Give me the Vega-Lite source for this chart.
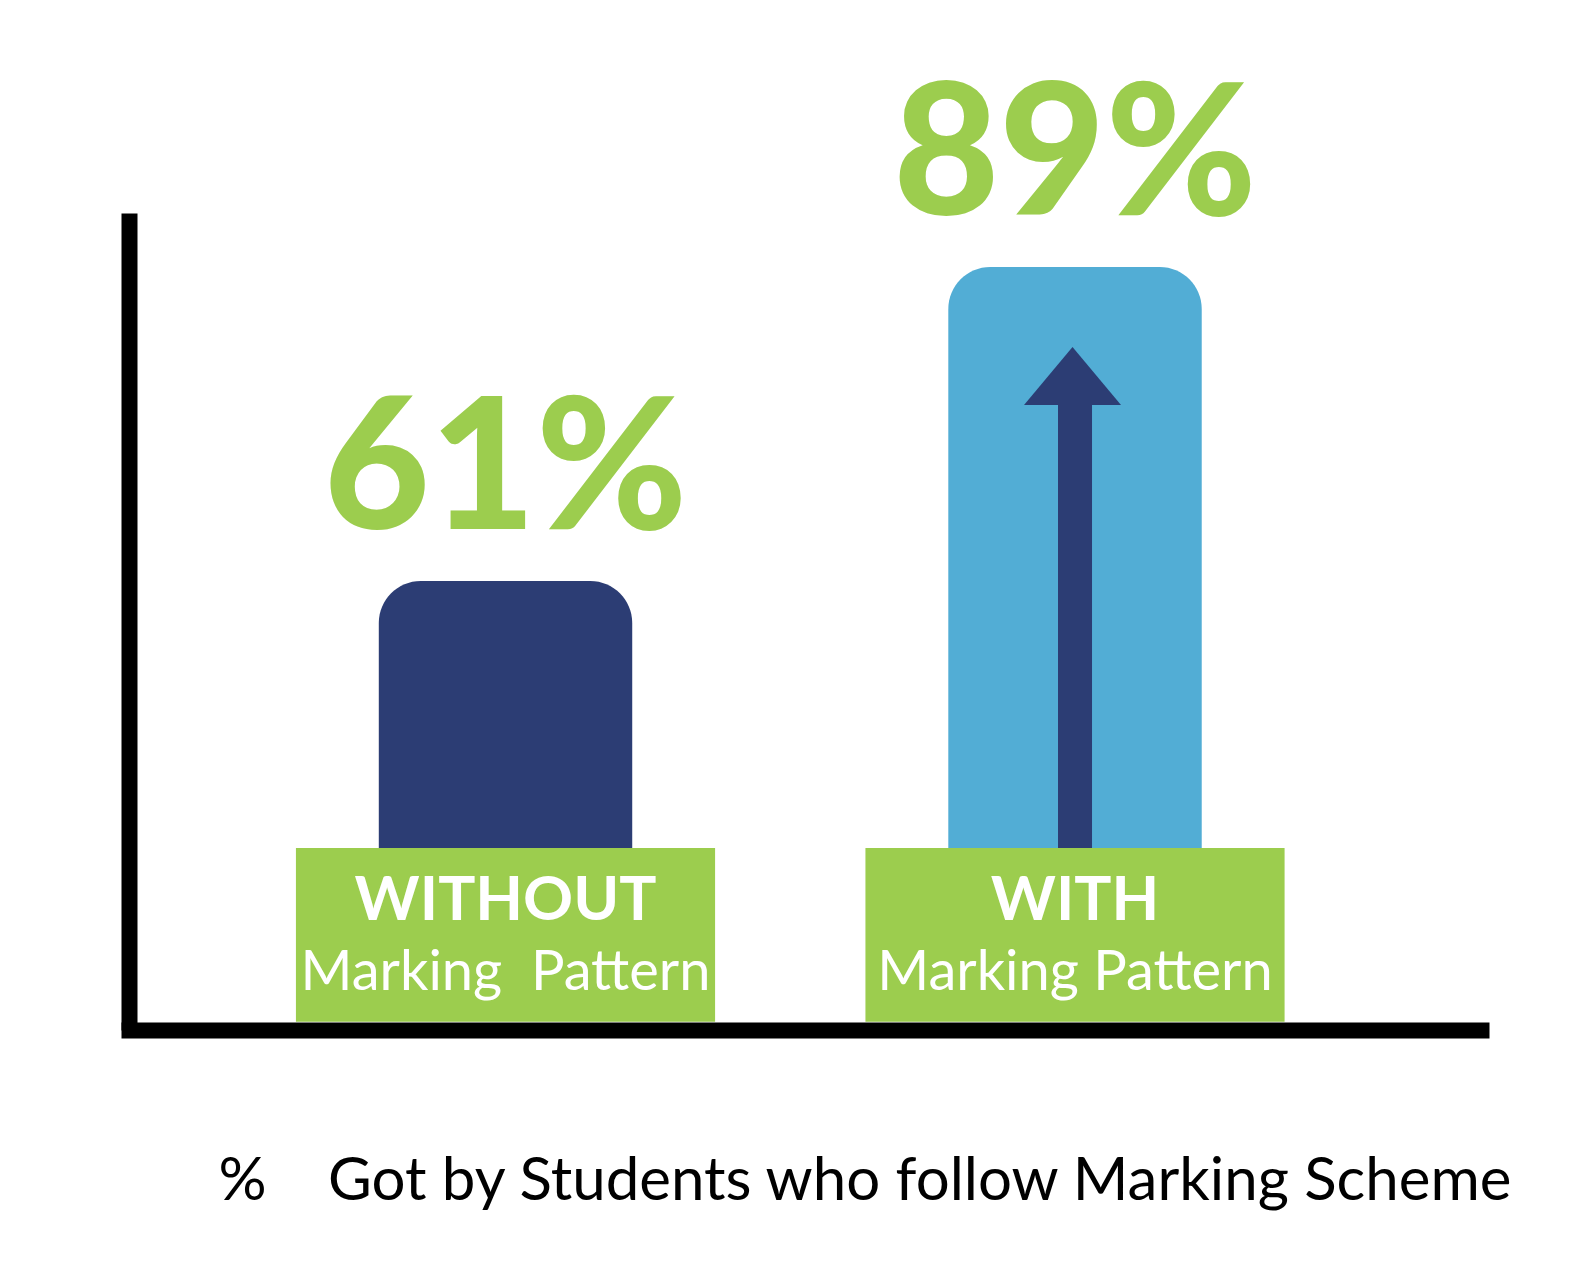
{
  "$schema": "https://vega.github.io/schema/vega-lite/v6.json",
  "autosize": {"type": "none"},
  "width": 1352,
  "height": 817,
  "padding": {"left": 129, "top": 213, "right": 112, "bottom": 248},
  "background": "white",
  "config": {"view": {"stroke": null}},
  "data": {"values": [
    {"group": "WITHOUT", "pct": 61, "label": "61%", "sub": "Marking\u00a0\u00a0Pattern"},
    {"group": "WITH", "pct": 89, "label": "89%", "sub": "Marking Pattern"}
  ]},
  "layer": [
    {
      "mark": {"type": "bar", "width": {"band": 0.445}, "cornerRadiusTopLeft": 42, "cornerRadiusTopRight": 42},
      "encoding": {
        "x": {"field": "group", "type": "nominal", "sort": ["WITHOUT", "WITH"],
              "scale": {"domain": ["WITHOUT", "WITH"], "paddingInner": 0, "paddingOuter": 0.187, "align": 0.4308},
              "axis": {"domain": true, "domainColor": "#000000", "domainWidth": 16, "domainCap": "square", "ticks": false, "labels": false,
                       "title": "%\u00a0\u00a0\u00a0\u00a0Got by Students who follow Marking Scheme",
                       "titleFont": "Lato", "titleFontSize": 60, "titleFontWeight": "normal", "titleColor": "#000000",
                       "titleAnchor": "start", "titleAlign": "left", "titleX": 89, "titleY": 169, "titleBaseline": "alphabetic"}},
        "y": {"field": "pct", "type": "quantitative",
              "scale": {"domain": [20.96, 93.81], "zero": false, "nice": false},
              "axis": {"domain": true, "domainColor": "#000000", "domainWidth": 16, "domainCap": "butt", "ticks": false, "labels": false, "grid": false, "title": null}},
        "y2": {"datum": 30},
        "color": {"field": "group", "type": "nominal", "scale": {"domain": ["WITHOUT", "WITH"], "range": ["#2c3d74", "#52add5"]}, "legend": null}
      }
    },
    {
      "transform": [{"filter": "datum.group === 'WITH'"}],
      "mark": {"type": "rule", "color": "#2c3d74", "strokeWidth": 34},
      "encoding": {
        "x": {"field": "group", "type": "nominal", "scale": {"domain": ["WITHOUT", "WITH"], "paddingInner": 0, "paddingOuter": 0.187, "align": 0.4308}},
        "y": {"datum": 30, "type": "quantitative", "scale": {"domain": [20.96, 93.81], "zero": false, "nice": false}},
        "y2": {"datum": 76.69}
      }
    },
    {
      "transform": [{"filter": "datum.group === 'WITH'"}],
      "mark": {"type": "point", "shape": "M-1,0L1,0L0,-1.196Z", "filled": true, "fill": "#2c3d74", "opacity": 1, "strokeWidth": 0, "size": 9409, "xOffset": -2.5},
      "encoding": {
        "x": {"field": "group", "type": "nominal", "scale": {"domain": ["WITHOUT", "WITH"], "paddingInner": 0, "paddingOuter": 0.187, "align": 0.4308}},
        "y": {"datum": 76.69, "type": "quantitative", "scale": {"domain": [20.96, 93.81], "zero": false, "nice": false}}
      }
    },
    {
      "mark": {"type": "bar", "width": {"band": 0.736}, "color": "#9ccd4e"},
      "encoding": {
        "x": {"field": "group", "type": "nominal", "scale": {"domain": ["WITHOUT", "WITH"], "paddingInner": 0, "paddingOuter": 0.187, "align": 0.4308}},
        "y": {"datum": 37.19, "type": "quantitative", "scale": {"domain": [20.96, 93.81], "zero": false, "nice": false}},
        "y2": {"datum": 21.7}
      }
    },
    {
      "mark": {"type": "text", "font": "Lato", "fontWeight": 900, "fontSize": 183, "color": "#9ccd4e", "baseline": "alphabetic", "align": "center", "dy": -52},
      "encoding": {
        "x": {"field": "group", "type": "nominal", "scale": {"domain": ["WITHOUT", "WITH"], "paddingInner": 0, "paddingOuter": 0.187, "align": 0.4308}},
        "y": {"field": "pct", "type": "quantitative", "scale": {"domain": [20.96, 93.81], "zero": false, "nice": false}},
        "text": {"field": "label"}
      }
    },
    {
      "mark": {"type": "text", "font": "Lato", "fontWeight": "bold", "fontSize": 62, "color": "#ffffff", "baseline": "alphabetic", "align": "center"},
      "encoding": {
        "x": {"field": "group", "type": "nominal", "scale": {"domain": ["WITHOUT", "WITH"], "paddingInner": 0, "paddingOuter": 0.187, "align": 0.4308}},
        "y": {"datum": 30.76, "type": "quantitative", "scale": {"domain": [20.96, 93.81], "zero": false, "nice": false}},
        "text": {"field": "group"}
      }
    },
    {
      "mark": {"type": "text", "font": "Lato", "fontWeight": "normal", "fontSize": 56, "color": "#ffffff", "baseline": "alphabetic", "align": "center"},
      "encoding": {
        "x": {"field": "group", "type": "nominal", "scale": {"domain": ["WITHOUT", "WITH"], "paddingInner": 0, "paddingOuter": 0.187, "align": 0.4308}},
        "y": {"datum": 24.52, "type": "quantitative", "scale": {"domain": [20.96, 93.81], "zero": false, "nice": false}},
        "text": {"field": "sub"}
      }
    }
  ]
}
